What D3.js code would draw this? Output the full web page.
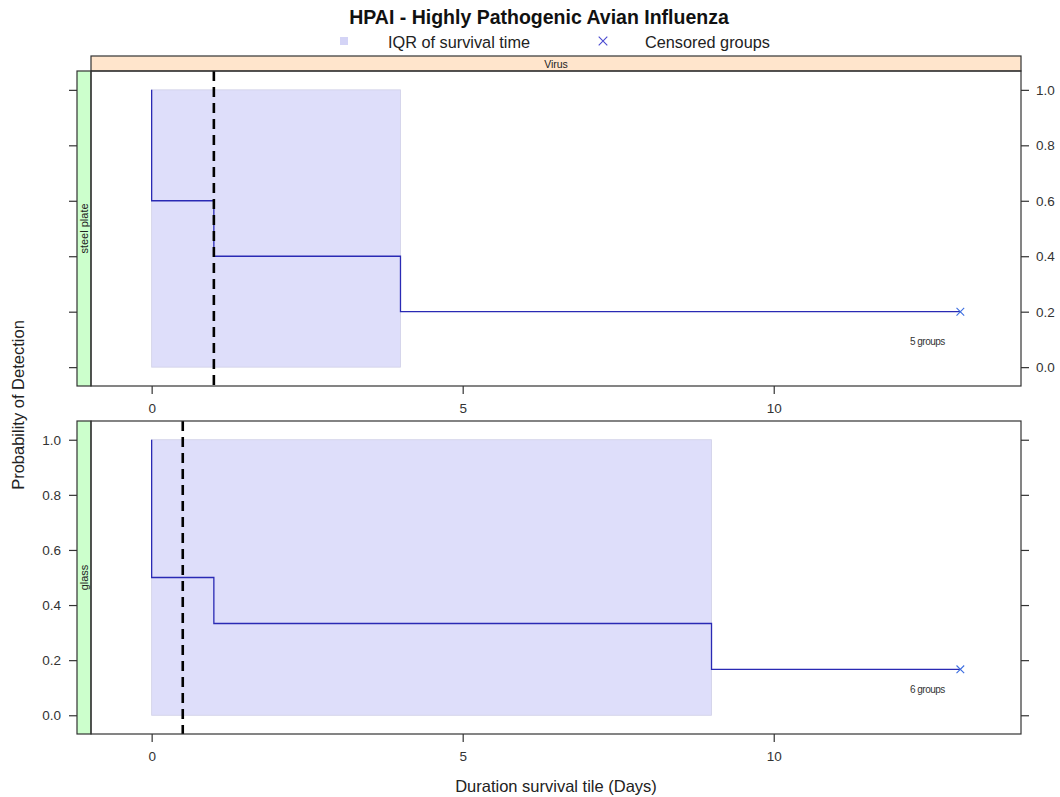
<!DOCTYPE html>
<html>
<head>
<meta charset="utf-8">
<script src="https://cdn.jsdelivr.net/npm/d3@7"></script>
<style>
  body { margin: 0; background: #fff; }
  svg text { font-family: "Liberation Sans", Arial, sans-serif; }
</style>
</head>
<body>
<svg id="chart" width="1060" height="797"></svg>
<script>
// Survival step curves per surface (time in days, probability of detection)
const panelNames = ["steel plate", "glass"];
const steelTimes = [0, 0, 1, 4, 13];
const steelSurv  = [1.0, 0.6, 0.4, 0.2, 0.2];
const glassTimes = [0, 0, 1, 9, 13];
const glassSurv  = [1.0, 0.5, 0.333, 0.1667, 0.1667];
// Interquartile range of survival time (days)
const steelIQR = [0, 4];
const glassIQR = [0, 9];
// Median survival (dashed reference line)
const steelMedian = 1;
const glassMedian = 0.5;
// Censored end point and number of groups
const censorTime = [13, 13];
const groupCounts = [5, 6];
const xTicks = [0, 5, 10];
const yTicks = [0, 0.2, 0.4, 0.6, 0.8, 1.0];

const panelData = [
  { name: panelNames[0], times: steelTimes, surv: steelSurv, iqr: steelIQR, median: steelMedian, censor: censorTime[0], groups: groupCounts[0] },
  { name: panelNames[1], times: glassTimes, surv: glassSurv, iqr: glassIQR, median: glassMedian, censor: censorTime[1], groups: groupCounts[1] }
];

const svg = d3.select("#chart");
const left = 91, right = 1021, stripW = 14;
const panelBoxes = [ { top: 71, bottom: 386 }, { top: 421, bottom: 734 } ];

const x = d3.scaleLinear().domain([-0.975, 13.975]).range([left, right]);

const frameColor = "#333";
const labelColor = "#333";

// Title
svg.append("text").attr("x", 539).attr("y", 24).attr("text-anchor", "middle")
  .attr("font-size", 19.5).attr("font-weight", "bold").attr("fill", "#111")
  .text("HPAI - Highly Pathogenic Avian Influenza");

// Legend
svg.append("rect").attr("x", 340).attr("y", 37).attr("width", 8).attr("height", 8).attr("fill", "#d4d4f6");
svg.append("text").attr("x", 388).attr("y", 48).attr("font-size", 16.3).attr("fill", "#222").text("IQR of survival time");
svg.append("path").attr("d", d3.symbol(d3.symbolX, 50)()).attr("transform", "translate(603,41)")
  .attr("stroke", "#4a4ad0").attr("stroke-width", 1.1).attr("fill", "none");
svg.append("text").attr("x", 645).attr("y", 48).attr("font-size", 16.3).attr("fill", "#222").text("Censored groups");

// Top strip
svg.append("rect").attr("x", left).attr("y", 56).attr("width", right - left).attr("height", 15)
  .attr("fill", "#ffe5cc").attr("stroke", frameColor).attr("stroke-width", 1.2);
svg.append("text").attr("x", (left + right) / 2).attr("y", 68).attr("text-anchor", "middle")
  .attr("font-size", 10.5).attr("fill", "#222").text("Virus");

panelData.forEach((p, i) => {
  const box = panelBoxes[i];
  const y = d3.scaleLinear().domain([-0.068, 1.068]).range([box.bottom, box.top]);
  const g = svg.append("g");

  // Side strip
  g.append("rect").attr("x", left - stripW).attr("y", box.top).attr("width", stripW).attr("height", box.bottom - box.top)
    .attr("fill", "#ccffcc").attr("stroke", frameColor).attr("stroke-width", 1.2);
  g.append("text").attr("transform", `translate(${left - 3.5},${(box.top + box.bottom) / 2}) rotate(-90)`)
    .attr("text-anchor", "middle").attr("font-size", 11).attr("fill", "#222").text(p.name);

  // Clip region for panel
  const clipId = "clip" + i;
  svg.append("clipPath").attr("id", clipId).append("rect")
    .attr("x", left).attr("y", box.top).attr("width", right - left).attr("height", box.bottom - box.top);
  const plot = g.append("g").attr("clip-path", `url(#${clipId})`);

  // IQR band
  plot.append("rect")
    .attr("x", x(p.iqr[0])).attr("y", y(1))
    .attr("width", x(p.iqr[1]) - x(p.iqr[0])).attr("height", y(0) - y(1))
    .attr("fill", "#dedefa").attr("stroke", "#cfcfe6").attr("stroke-width", 0.8);

  // Survival step curve
  const pts = p.times.map((t, k) => [t, p.surv[k]]);
  const line = d3.line().x(d => x(d[0])).y(d => y(d[1])).curve(d3.curveStepAfter);
  plot.append("path").attr("d", line(pts)).attr("fill", "none")
    .attr("stroke", "#2a2ab4").attr("stroke-width", 1.3);

  // Censored marker
  plot.append("path").attr("d", d3.symbol(d3.symbolX, 40)())
    .attr("transform", `translate(${x(p.censor)},${y(p.surv[p.surv.length - 1])})`)
    .attr("stroke", "#3d6ee0").attr("stroke-width", 1.1).attr("fill", "none");

  // Group count label
  plot.append("text").attr("x", x(12.47)).attr("y", y(0.094) + 3.5).attr("text-anchor", "middle")
    .attr("font-size", 10).attr("letter-spacing", -0.5).attr("fill", "#333").text(p.groups + " groups");

  // Median dashed line
  plot.append("line").attr("x1", x(p.median)).attr("x2", x(p.median))
    .attr("y1", box.top).attr("y2", box.bottom)
    .attr("stroke", "#000").attr("stroke-width", 2.6).attr("stroke-dasharray", "10,6");

  // Frame
  g.append("rect").attr("x", left).attr("y", box.top).attr("width", right - left).attr("height", box.bottom - box.top)
    .attr("fill", "none").attr("stroke", frameColor).attr("stroke-width", 1.2);

  // Y axes: left (labels on bottom panel) and right (labels on top panel)
  const leftAxis = d3.axisLeft(y).tickValues(yTicks).tickSize(8).tickPadding(8)
    .tickFormat(i === 1 ? d3.format(".1f") : () => "");
  const la = g.append("g").attr("transform", `translate(${left - stripW},0)`).call(leftAxis);
  const rightAxis = d3.axisRight(y).tickValues(yTicks).tickSize(8).tickPadding(7)
    .tickFormat(i === 0 ? d3.format(".1f") : () => "");
  const ra = g.append("g").attr("transform", `translate(${right},0)`).call(rightAxis);

  // X axis below each panel
  const bottomAxis = d3.axisBottom(x).tickValues(xTicks).tickSize(8).tickPadding(9);
  const ba = g.append("g").attr("transform", `translate(0,${box.bottom})`).call(bottomAxis);

  [la, ra, ba].forEach(a => {
    a.select(".domain").remove();
    a.selectAll(".tick line").attr("stroke", frameColor).attr("stroke-width", 1.2);
    a.selectAll(".tick text").attr("font-size", 13.5).attr("fill", labelColor)
      .attr("font-family", "Liberation Sans, Arial, sans-serif");
  });
});

// Axis titles
svg.append("text").attr("transform", "translate(24,405) rotate(-90)").attr("text-anchor", "middle")
  .attr("font-size", 16.5).attr("fill", "#222").text("Probability of Detection");
svg.append("text").attr("x", 556).attr("y", 792).attr("text-anchor", "middle")
  .attr("font-size", 16.5).attr("fill", "#222").text("Duration survival tile (Days)");
</script>
</body>
</html>
